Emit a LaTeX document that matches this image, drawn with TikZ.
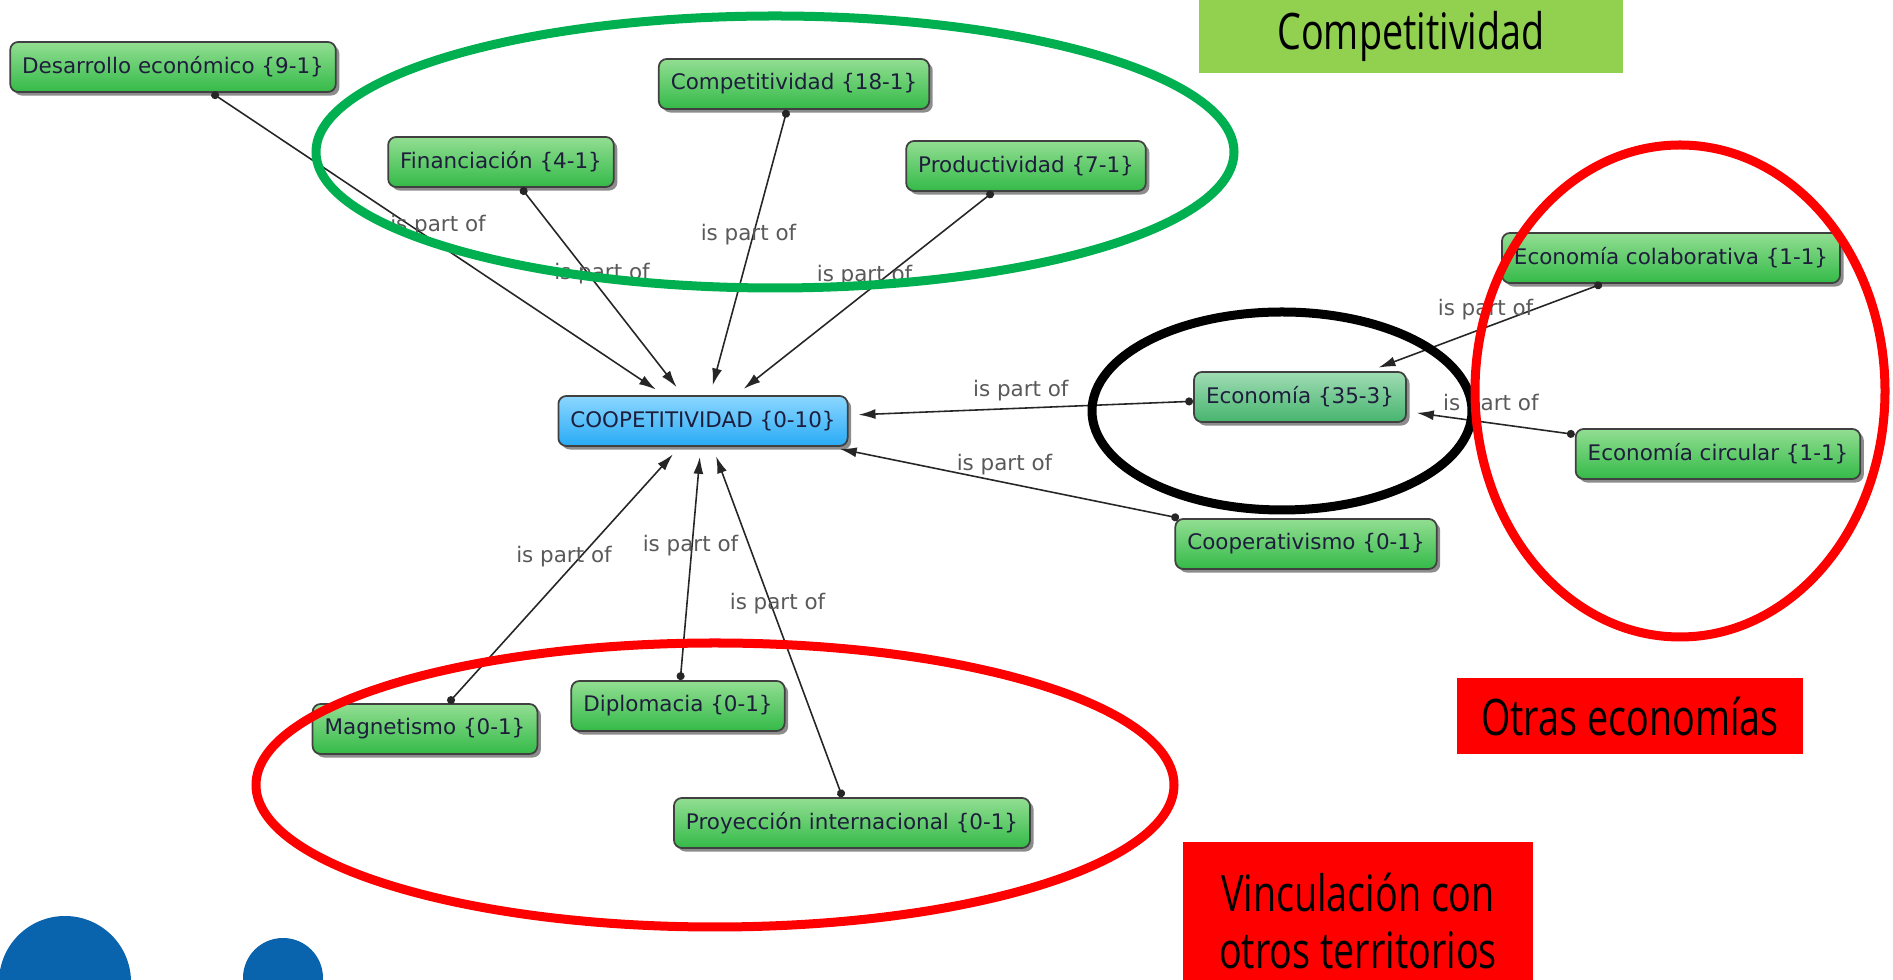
\documentclass[tikz,border=0pt]{standalone}
\usepackage{fontspec}
\usetikzlibrary{arrows.meta,shadows}
\newfontfamily\mapfont{DejaVu Sans}
\newfontfamily\tagfont[FakeStretch=0.75]{Open Sans}
\definecolor{greentop}{RGB}{146,222,146}
\definecolor{greenbot}{RGB}{52,186,72}
\definecolor{econtop}{RGB}{160,220,180}
\definecolor{econbot}{RGB}{70,180,110}
\definecolor{bluetop}{RGB}{140,215,255}
\definecolor{bluebot}{RGB}{40,170,245}
\definecolor{codetext}{RGB}{30,30,60}
\definecolor{ringgreen}{RGB}{0,176,80}
\definecolor{taggreen}{RGB}{146,208,80}
\definecolor{blob}{RGB}{10,99,173}

\begin{document}
\begin{tikzpicture}[x=0.01cm, y=-0.01cm,
    code/.style={draw=black!75, line width=0.5pt, rounded corners=0.08cm,
      top color=greentop, bottom color=greenbot, minimum height=0.5cm,
      inner xsep=0.12cm, text=codetext, font=\mapfont\fontsize{6.1}{7}\selectfont,
      drop shadow={shadow xshift=0.035cm, shadow yshift=-0.035cm, opacity=0.45, fill=black}},
    econcode/.style={code, top color=econtop, bottom color=econbot},
    rootcode/.style={code, top color=bluetop, bottom color=bluebot},
    rel/.style={draw=black!85, line width=0.45pt,
      {Circle[length=0.08cm]}-{Latex[length=0.17cm,width=0.1cm]}, shorten >=0.1cm},
    lbl/.style={midway, yshift=0.18cm, inner sep=0pt, text=black!65,
      font=\mapfont\fontsize{6.1}{7}\selectfont},
    ring/.style={line width=0.09cm},
    tag/.style={inner sep=0pt, align=center, text=black,
      font=\tagfont\fontsize{14.3}{16}\selectfont}]
  \useasboundingbox (0,0) rectangle (1893,980);

  % logo blobs
  \fill[blob] (65,982) circle [radius=66];
  \fill[blob] (283,978) circle [radius=40];

  % codes
  \node[code] (dev) at (173,67) {Desarrollo económico \{9-1\}};
  \node[code] (compet) at (794,84) {Competitividad \{18-1\}};
  \node[code] (fin) at (501,162) {Financiación \{4-1\}};
  \node[code] (prod) at (1026,166) {Productividad \{7-1\}};
  \node[rootcode] (coop) at (703,421) {COOPETITIVIDAD \{0-10\}};
  \node[econcode] (econ) at (1300,397) {Economía \{35-3\}};
  \node[code] (colab) at (1671,258) {Economía colaborativa \{1-1\}};
  \node[code] (circ) at (1718,454) {Economía circular \{1-1\}};
  \node[code] (coopv) at (1306,544) {Cooperativismo \{0-1\}};
  \node[code] (magn) at (425,729) {Magnetismo \{0-1\}};
  \node[code] (dipl) at (678,706) {Diplomacia \{0-1\}};
  \node[code] (proy) at (852,823) {Proyección internacional \{0-1\}};

  % links
  \draw[rel] (dev) -- (coop) node[lbl] {is part of};
  \draw[rel] (fin) -- (coop) node[lbl] {is part of};
  \draw[rel] (compet) -- (coop) node[lbl] {is part of};
  \draw[rel] (prod) -- (coop) node[lbl] {is part of};
  \draw[rel] (econ) -- (coop) node[lbl] {is part of};
  \draw[rel] (coopv) -- (coop) node[lbl] {is part of};
  \draw[rel] (colab) -- (econ) node[lbl] {is part of};
  \draw[rel] (circ) -- (econ) node[lbl] {is part of};
  \draw[rel] (magn) -- (coop) node[lbl] {is part of};
  \draw[rel] (dipl) -- (coop) node[lbl] {is part of};
  \draw[rel] (proy) -- (coop) node[lbl] {is part of};

  % groups
  \draw[ring, ringgreen] (775,152) ellipse [x radius=459, y radius=136];
  \draw[ring, black] (1282,411) ellipse [x radius=190, y radius=99];
  \draw[ring, red] (1680,391) ellipse [x radius=205, y radius=246];
  \draw[ring, red] (715,785) ellipse [x radius=459, y radius=142];

  % tags
  \node[tag, fill=taggreen, minimum width=4.24cm, minimum height=0.73cm] (tcompet) at (1411,36) {Competitividad};
  \node[tag, fill=red, minimum width=3.45cm, minimum height=0.76cm] (totras) at (1630,716) {Otras economías};
  \node[tag, fill=red, minimum width=3.5cm, minimum height=1.57cm] (tvinc) at (1358,921) {Vinculación con\\otros territorios};
\end{tikzpicture}
\end{document}
